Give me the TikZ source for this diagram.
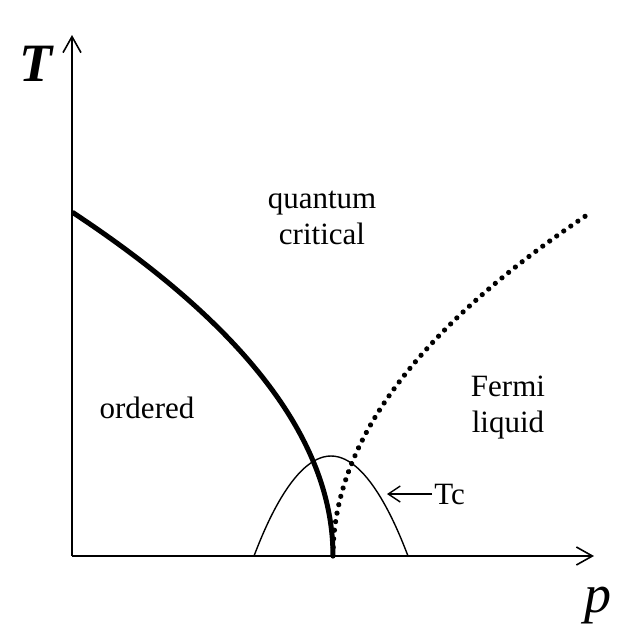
\documentclass[tikz,border=0pt]{standalone}
\usepackage{fontspec}
\setmainfont{Liberation Serif}
\usetikzlibrary{arrows.meta}

\begin{document}
\begin{tikzpicture}[x=0.5pt,y=-0.5pt,
  axis/.style={line width=0.8pt,-{Straight Barb[length=8pt,width=9pt]}},
  region/.style={font=\fontsize{15.5}{18}\selectfont,align=center},
  axlabel/.style={font=\fontsize{27}{30}\selectfont\itshape}]
\useasboundingbox (0,0) rectangle (630,638);
% axes
\coordinate (O) at (72,556);
\coordinate (Ttip) at (72,35);
\coordinate (ptip) at (594,556);
\draw[axis](O)--(Ttip);
\draw[axis](O)--(ptip);
\node[axlabel,font=\fontsize{27}{30}\selectfont\bfseries\itshape] (Tlab) at (36,64) {T};
\node[axlabel] (plab) at (598,606) {p};
% ordered phase boundary
\draw[line width=2.5pt] plot[domain=0:1,samples=80] ({333-261*\x*\x},{556-344*\x});
% crossover line
\draw[line width=2.6pt,line cap=round,dash pattern=on 0.01pt off 4.3pt]
  plot[domain=0:1,samples=80] ({333+257*\x*\x},{556-343*\x});
% superconducting dome
\draw[line width=0.7pt](254,556)parabola bend(331,456)(408,556);
% labels
\node[region] (qc) at (322,218) {quantum\\critical};
\node[region] (ord) at (147,408) {ordered};
\node[region] (fl) at (508,408) {Fermi\\liquid};
\node[region,anchor=west,inner sep=1pt] (tc) at (432,494) {Tc};
\coordinate (tctip) at (387,494);
\draw[line width=0.7pt,-{Straight Barb[length=6pt,width=8pt]}](tc.west)--(tctip);
\end{tikzpicture}
\end{document}
